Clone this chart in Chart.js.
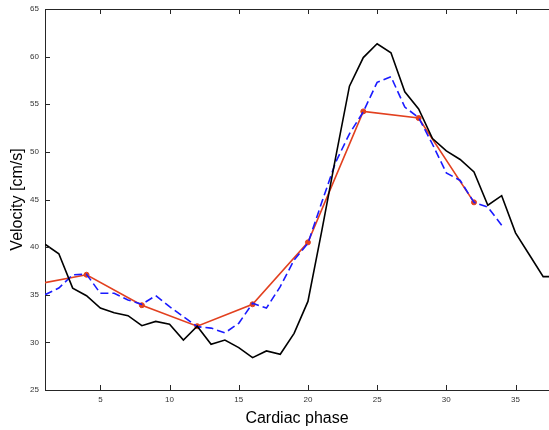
<!DOCTYPE html>
<html>
<head>
<meta charset="utf-8">
<script src="https://cdn.jsdelivr.net/npm/chart.js@4/dist/chart.umd.min.js"></script>
<style>
  html, body { margin: 0; padding: 0; background: #fff; }
  #wrap { width: 549px; height: 430px; }
</style>
</head>
<body>
<div id="wrap"><canvas id="velocityChart"></canvas></div>
<script>
// cardiac phases 1..38 (38 sits just past the right edge)
const phases = [1, 2, 3, 4, 5, 6, 7, 8, 9, 10, 11, 12, 13, 14, 15, 16, 17, 18, 19,
  20, 21, 22, 23, 24, 25, 26, 27, 28, 29, 30, 31, 32, 33, 34, 35, 36, 37, 38];
const blackValues = [40.3, 39.3, 35.7, 34.9, 33.6, 33.1, 32.8, 31.75, 32.2, 31.9, 30.25, 31.7,
  29.8, 30.25, 29.45, 28.4, 29.1, 28.75, 30.95, 34.3, 41.7, 49.4, 56.9, 59.9, 61.35, 60.4,
  56.3, 54.5, 51.4, 50.1, 49.2, 47.9, 44.4, 45.4, 41.5, 39.2, 36.9, 36.9];
const bluePhases = phases.slice(0, 34);
const blueValues = [35.0, 35.7, 37.1, 37.15, 35.15, 35.15, 34.45, 34.0, 34.9, 33.75, 32.7, 31.65,
  31.5, 31.0, 32.0, 34.1, 33.6, 35.85, 38.65, 40.4, 44.7, 48.9, 51.9, 54.2, 57.3, 57.9,
  54.7, 53.6, 50.8, 47.8, 47.0, 44.7, 44.2, 42.3];
const redPhases = [0, 4, 8, 12, 16, 20, 24, 28, 32];
const redValues = [36.0, 37.1, 33.9, 31.7, 34.0, 40.5, 54.25, 53.55, 44.7];
const xTicks = [5, 10, 15, 20, 25, 30, 35];
const yTicks = [25, 30, 35, 40, 45, 50, 55, 60, 65];

const toPoints = (xs, ys) => xs.map((x, i) => ({ x, y: ys[i] }));
const noPadding = () => ({ left: 0, right: 0, top: 0, bottom: 0 });

// MATLAB style: ticks pointing inward, box on top
const innerTicks = {
  id: 'innerTicks',
  afterDraw(chart) {
    const { ctx, chartArea: a, scales } = chart;
    ctx.save();
    ctx.strokeStyle = '#262626';
    ctx.lineWidth = 1;
    ctx.beginPath();
    ctx.moveTo(a.left, a.top + 0.5);
    ctx.lineTo(a.right, a.top + 0.5);
    xTicks.forEach(v => {
      const px = Math.round(scales.x.getPixelForValue(v)) + 0.5;
      ctx.moveTo(px, a.bottom);
      ctx.lineTo(px, a.bottom - 5);
      ctx.moveTo(px, a.top);
      ctx.lineTo(px, a.top + 5);
    });
    yTicks.forEach(v => {
      const py = Math.round(scales.y.getPixelForValue(v)) + 0.5;
      ctx.moveTo(a.left, py);
      ctx.lineTo(a.left + 5, py);
    });
    ctx.stroke();
    ctx.restore();
  }
};

const ctx = document.getElementById('velocityChart').getContext('2d');
new Chart(ctx, {
  type: 'line',
  data: {
    datasets: [
      {
        label: 'Measured',
        data: toPoints(phases, blackValues),
        borderColor: '#000000',
        borderWidth: 1.6,
        pointRadius: 0,
        tension: 0
      },
      {
        label: 'Model',
        data: toPoints(bluePhases, blueValues),
        borderColor: '#1a1aff',
        borderWidth: 1.6,
        borderDash: [8, 4],
        pointRadius: 0,
        tension: 0
      },
      {
        label: 'Sampled',
        data: toPoints(redPhases, redValues),
        borderColor: '#e2401f',
        backgroundColor: '#e2401f',
        borderWidth: 1.6,
        pointRadius: 2.5,
        pointBorderWidth: 1,
        tension: 0
      }
    ]
  },
  options: {
    responsive: true,
    maintainAspectRatio: false,
    animation: false,
    layout: { autoPadding: false, padding: { top: 9, right: 0, bottom: 0, left: 0 } },
    plugins: {
      legend: { display: false },
      tooltip: { enabled: false }
    },
    scales: {
      x: {
        type: 'linear',
        min: 1,
        max: 37.42,
        afterFit(scale) {
          scale.height = 40;
          scale.getPadding = noPadding;
        },
        afterBuildTicks(scale) { scale.ticks = xTicks.map(v => ({ value: v })); },
        grid: { display: false, drawTicks: false },
        border: { display: true, color: '#262626', width: 1 },
        ticks: {
          padding: 5,
          color: '#333',
          font: { family: 'Liberation Sans, Arial', size: 8 }
        },
        title: {
          display: true,
          text: 'Cardiac phase',
          color: '#000',
          font: { family: 'Liberation Sans, Arial', size: 16 },
          padding: { top: 0, bottom: 2 }
        }
      },
      y: {
        min: 25,
        max: 65,
        afterFit(scale) {
          scale.width = 45;
          scale.getPadding = noPadding;
        },
        afterBuildTicks(scale) { scale.ticks = yTicks.map(v => ({ value: v })); },
        grid: { display: false, drawTicks: false },
        border: { display: true, color: '#262626', width: 1 },
        ticks: {
          padding: 6,
          color: '#333',
          font: { family: 'Liberation Sans, Arial', size: 8 }
        },
        title: {
          display: true,
          text: 'Velocity [cm/s]',
          color: '#000',
          font: { family: 'Liberation Sans, Arial', size: 16 },
          padding: { top: 8, bottom: 0 }
        }
      }
    }
  },
  plugins: [innerTicks]
});
</script>
</body>
</html>
